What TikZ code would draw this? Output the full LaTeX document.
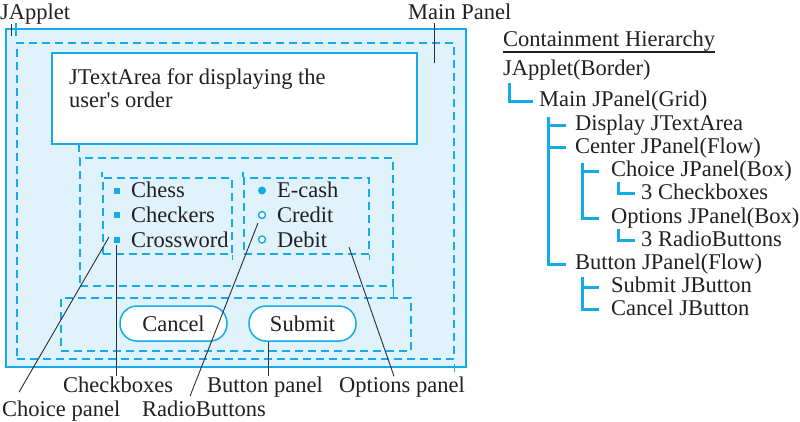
\documentclass[tikz,border=0pt]{standalone}
\usepackage{fontspec}
\setmainfont{Liberation Serif}[Ligatures=TeXOff]
\definecolor{cyanline}{RGB}{20,172,232}
\definecolor{panelfill}{RGB}{224,243,252}
\definecolor{leader}{RGB}{45,45,45}
\definecolor{ink}{RGB}{35,31,32}
\begin{document}
\begin{tikzpicture}[x=1pt,y=-1pt,
  font=\fontsize{22.5}{26}\selectfont,
  solidbox/.style={draw=cyanline, line width=1.5pt},
  dashbox/.style={draw=cyanline, line width=1.5pt, dash pattern=on 8pt off 5pt},
  ext/.style={draw=cyanline, line width=1.5pt},
  panel/.style={inner sep=0pt, anchor=north west},
  txt/.style={inner sep=0pt, anchor=base west, text=ink},
  leadline/.style={draw=leader, line width=0.9pt},
  treeline/.style={draw=cyanline, line width=3pt, line join=miter},
  pill/.style={draw=cyanline, fill=white, line width=1.5pt, rounded corners=17pt,
    minimum width=107pt, minimum height=35pt, inner sep=0pt, text=ink},
  sqbullet/.style={fill=cyanline, minimum size=6pt, inner sep=0pt},
  radioon/.style={circle, fill=cyanline, minimum size=8pt, inner sep=0pt},
  radiooff/.style={circle, draw=cyanline, fill=white, line width=1.4pt, minimum size=7pt, inner sep=0pt}
]
\useasboundingbox (0,0) rectangle (800,421);

% ---------- panels ----------
\node[panel, solidbox, fill=panelfill, minimum width=460pt, minimum height=338pt] (applet) at (5,28) {};
\node[panel, dashbox, minimum width=437pt, minimum height=316pt] (mainp) at (16,42) {};
\node[panel, solidbox, fill=white, minimum width=365pt, minimum height=91pt] (textarea) at (51,52) {};
\node[panel, dashbox, minimum width=313pt, minimum height=128pt] (centerp) at (79,157) {};
\node[panel, dashbox, minimum width=129pt, minimum height=76pt] (choicep) at (102,177) {};
\node[panel, dashbox, minimum width=125pt, minimum height=76pt] (optionsp) at (243,177) {};
\node[panel, dashbox, minimum width=350pt, minimum height=53pt] (buttonp) at (60,297) {};

% overshooting edges of the dashed panels
\draw[ext] (mainp.north west) ++(0,-19) -- ++(0,13);
\draw[ext] (mainp.south east) ++(0,4) -- ++(0,8);
\draw[ext] (centerp.north west) ++(0,-14) -- ++(0,9);
\draw[ext] (centerp.south east) -- ++(0,12);
\draw[ext] (choicep.north west) ++(0,-5) -- ++(0,5);
\draw[ext] (choicep.south east) -- ++(0,5);
\draw[ext] (optionsp.north west) ++(0,-5) -- ++(0,5);
\draw[ext] (optionsp.south east) -- ++(0,5);

% ---------- contents ----------
\node[txt] (ta1) at (69,84) {JTextArea for displaying the};
\node[txt] (ta2) at (69,107) {user's order};

\node[sqbullet] (cb1) at (117,190.5) {};
\node[sqbullet] (cb2) at (117,215) {};
\node[sqbullet] (cb3) at (117,239.5) {};
\node[txt] (chess) at (131,197) {Chess};
\node[txt] (checkers) at (131,222) {Checkers};
\node[txt] (crossword) at (131,247) {Crossword};

\node[radioon] (rb1) at (262,190.5) {};
\node[radiooff] (rb2) at (262,215) {};
\node[radiooff] (rb3) at (262,239.5) {};
\node[txt] (ecash) at (277,197) {E-cash};
\node[txt] (credit) at (277,222) {Credit};
\node[txt] (debit) at (277,247) {Debit};

\node[pill] (cancel) at (173.5,323.5) {Cancel};
\node[pill] (submit) at (302.5,323.5) {Submit};

% ---------- labels ----------
\node[txt] (lapplet) at (0,19) {JApplet};
\node[txt] (lmain) at (408,19) {Main Panel};
\node[txt] (lcheck) at (63,392) {Checkboxes};
\node[txt] (lbutton) at (207,392) {Button panel};
\node[txt] (loptions) at (339,392) {Options panel};
\node[txt] (lchoice) at (2,416) {Choice panel};
\node[txt] (lradio) at (142,416) {RadioButtons};

\coordinate (pApplet) at (11,36);
\coordinate (pMain) at (434,63);
\coordinate (pCheck) at (116,245);
\coordinate (pChoice) at (109,237);
\coordinate (pRadio) at (258,223);
\coordinate (pOptions) at (349,247);

\draw[leadline] (lapplet.south -| pApplet) -- (pApplet);
\draw[leadline] ([xshift=26pt,yshift=-4pt]lmain.south west) -- (pMain);
\draw[leadline] (lcheck.north -| pCheck) -- (pCheck);
\draw[leadline] ([xshift=17pt,yshift=8pt]lchoice.north west) -- (pChoice);
\draw[leadline] ([xshift=48pt,yshift=4pt]lradio.north west) -- (pRadio);
\draw[leadline] ([xshift=55pt]loptions.north west) -- (pOptions);
\draw[leadline] ([xshift=61pt]lbutton.north west) -- ([xshift=-34.5pt]submit.south);

% ---------- containment hierarchy ----------
\node[txt] (htitle) at (503,46) {Containment Hierarchy};
\draw[draw=ink, line width=1.2pt] ([yshift=-6pt]htitle.base west) -- ([yshift=-6pt]htitle.base east);

\node[txt] (h0) at (503,75) {JApplet(Border)};
\node[txt] (h1) at (539,106) {Main JPanel(Grid)};
\node[txt] (h2) at (575,130) {Display JTextArea};
\node[txt] (h3) at (575,153) {Center JPanel(Flow)};
\node[txt] (h4) at (611,176) {Choice JPanel(Box)};
\node[txt] (h5) at (641,199) {3 Checkboxes};
\node[txt] (h6) at (611,223) {Options JPanel(Box)};
\node[txt] (h7) at (641,246) {3 RadioButtons};
\node[txt] (h8) at (575,269) {Button JPanel(Flow)};
\node[txt] (h9) at (611,292) {Submit JButton};
\node[txt] (h10) at (611,315) {Cancel JButton};

\draw[treeline] ([xshift=6pt,yshift=-3pt]h0.south west) |- ([xshift=-6pt,yshift=5pt]h1.base west);
\draw[treeline] ([xshift=9pt,yshift=-6pt]h1.south west) |- ([xshift=-9pt,yshift=5pt]h8.base west);
\draw[treeline] ([xshift=-27pt,yshift=5pt]h2.base west) -- ([xshift=-9pt,yshift=5pt]h2.base west);
\draw[treeline] ([xshift=-27pt,yshift=6pt]h3.base west) -- ([xshift=-9pt,yshift=6pt]h3.base west);
\draw[treeline] ([xshift=7pt,yshift=-5pt]h3.south west) |- ([xshift=-12pt,yshift=5pt]h6.base west);
\draw[treeline] ([xshift=-29pt,yshift=5pt]h4.base west) -- ([xshift=-12pt,yshift=5pt]h4.base west);
\draw[treeline] ([xshift=7pt,yshift=-1pt]h4.south west) |- ([xshift=-6pt,yshift=6pt]h5.base west);
\draw[treeline] ([xshift=7pt,yshift=-1pt]h6.south west) |- ([xshift=-6pt,yshift=6pt]h7.base west);
\draw[treeline] ([xshift=7pt,yshift=-3pt]h8.south west) |- ([xshift=-12pt,yshift=6pt]h10.base west);
\draw[treeline] ([xshift=-29pt,yshift=5pt]h9.base west) -- ([xshift=-12pt,yshift=5pt]h9.base west);
\end{tikzpicture}
\end{document}
